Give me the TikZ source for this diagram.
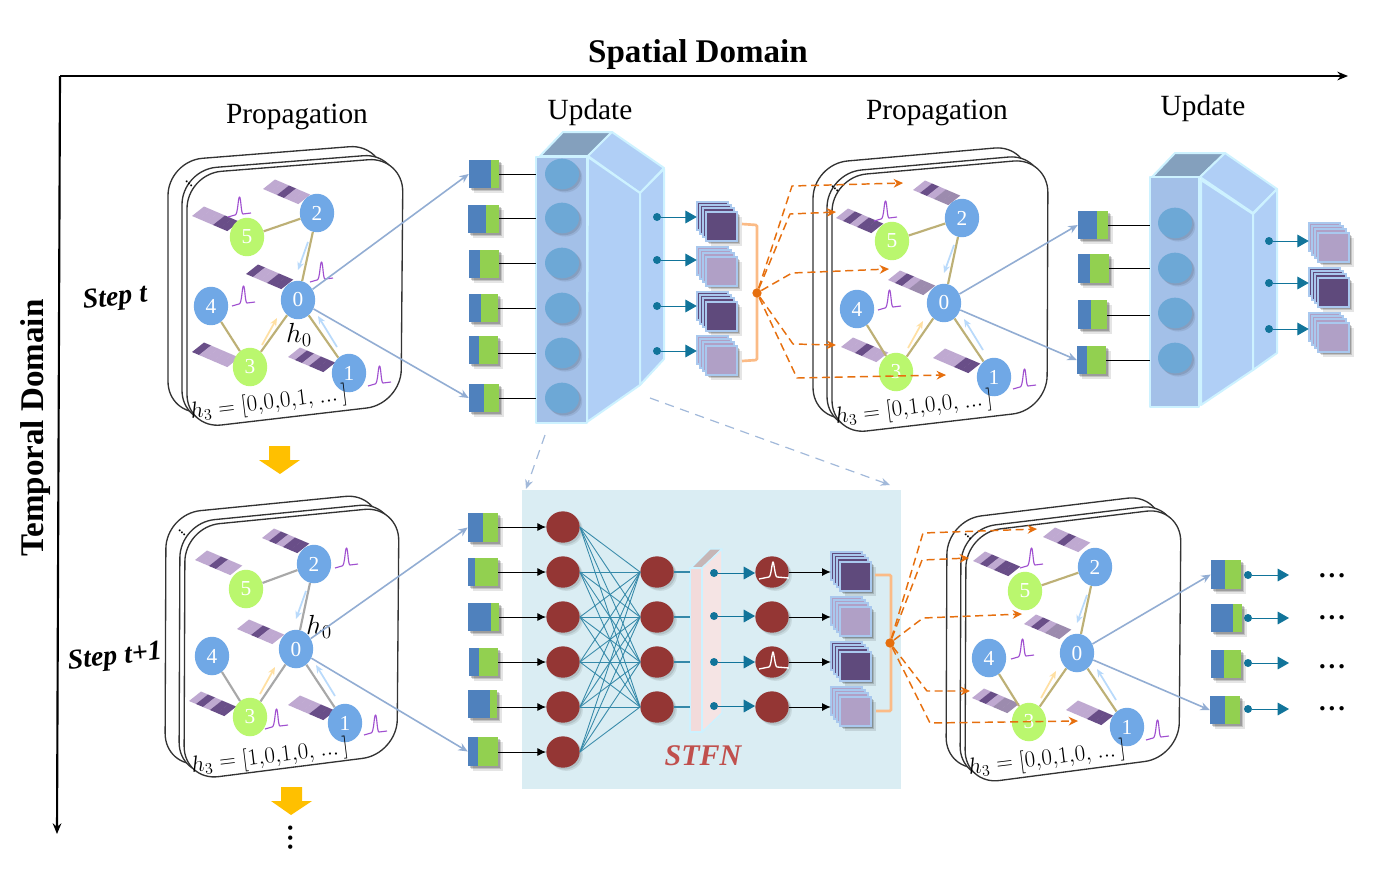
\documentclass[tikz,border=0pt]{standalone}
\usepackage{fontspec}
\setmainfont{Liberation Serif}
\usetikzlibrary{arrows.meta,calc,shadows,shapes.geometric}
\definecolor{cL}{HTML}{BFA9D1}
\definecolor{cD}{HTML}{694E88}
\definecolor{cM}{HTML}{9C8BAE}
\definecolor{nblue}{HTML}{70A8E6}
\definecolor{nlime}{HTML}{BAF76E}
\definecolor{khaki}{HTML}{BDB076}
\definecolor{grayedge}{HTML}{A8A8A8}
\definecolor{linkblue}{HTML}{92ADD3}
\definecolor{fblue}{HTML}{4F81BD}
\definecolor{fgreen}{HTML}{92D050}
\definecolor{teal}{HTML}{11749A}
\definecolor{brick}{HTML}{943634}
\definecolor{prfront}{HTML}{A3C0E8}
\definecolor{prside}{HTML}{B0CFF6}
\definecolor{prtop}{HTML}{84A0BD}
\definecolor{prline}{HTML}{CDF2FF}
\definecolor{prdisc}{HTML}{6DA8D6}
\definecolor{stborder}{HTML}{A9C8EE}
\definecolor{stdark}{HTML}{5F4A7C}
\definecolor{stlight}{HTML}{B0A0C6}
\definecolor{brace}{HTML}{FBBB86}
\definecolor{orangeline}{HTML}{E66F0E}
\definecolor{pulsec}{HTML}{A050D0}
\definecolor{stfnbg}{HTML}{DAEDF3}
\definecolor{stfntxt}{HTML}{C0504D}
\definecolor{yarrow}{HTML}{FFC000}
\definecolor{tinyblue}{HTML}{B9DAFB}
\definecolor{tinyyellow}{HTML}{FFE0A3}
\definecolor{slabtop}{HTML}{C6B6B6}
\definecolor{slabside}{HTML}{F5E4E4}
\definecolor{slabfront}{HTML}{F2DBDB}
\tikzset{
  softsh/.style={drop shadow={shadow xshift=3.6pt,shadow yshift=-3.6pt,opacity=.10,fill=black},
                 drop shadow={shadow xshift=2.6pt,shadow yshift=-2.6pt,opacity=.15,fill=black},
                 drop shadow={shadow xshift=1.4pt,shadow yshift=-1.4pt,opacity=.2,fill=black}},
  softc/.style={drop shadow={shadow xshift=2.4pt,shadow yshift=-2.4pt,opacity=.08,fill=black},
                drop shadow={shadow xshift=1.4pt,shadow yshift=-1.4pt,opacity=.10,fill=black}},
  cardline/.style={draw=black!80,line width=1pt,fill=white,rounded corners=26pt},
  gnode/.style={ellipse,minimum width=33pt*0.78,minimum height=37pt*0.78,inner sep=0pt,text=white,font=\fontsize{16}{16}\selectfont},
  gblue/.style={gnode,fill=nblue},
  glime/.style={gnode,fill=nlime},
  gedge/.style={line width=1.6pt},
  tinyarr/.style={line width=1.3pt,-{Stealth[length=6pt,width=5pt]}},
  link/.style={draw=linkblue,line width=1.2pt,-{Stealth[length=7pt,width=6pt]}},
  featbox/.style={fill=fblue,inner sep=0pt,minimum height=0pt,minimum width=0pt,softsh},
  blackline/.style={draw=black,line width=.7pt},
  blackarr/.style={draw=black,line width=.7pt,-{Latex[length=6.5pt,width=6pt]}},
  tealarr/.style={draw=teal,line width=.75pt,-{Triangle[length=8.5pt,width=9.5pt]}},
  tealdot/.style={circle,fill=teal,inner sep=0pt,minimum size=6pt},
  prismface/.style={draw=prline,line width=1.5pt,line join=round},
  disc/.style={ellipse,fill=prdisc,inner sep=0pt,minimum width=25.5pt,minimum height=23pt,softc},
  redc/.style={ellipse,fill=brick,inner sep=0pt,minimum width=25pt,minimum height=23.5pt,softc},
  stackface/.style={draw=stborder,line width=1.2pt},
  stbound/.style={inner sep=0pt,minimum width=30pt,minimum height=29pt},
  bracel/.style={draw=brace,line width=2pt,rounded corners=1pt},
  hubdot/.style={circle,fill=orangeline,inner sep=0pt,minimum size=7pt},
  orangedash/.style={draw=orangeline,line width=1.1pt,dashed,dash pattern=on 6pt off 3.5pt,line join=round},
  orangearr/.style={orangedash,-{Stealth[length=7pt,width=6.5pt]}},
  pulsestyle/.style={draw=pulsec,line width=.85pt,line join=round},
  whitepulse/.style={draw=white,line width=1pt,line join=round},
  wire/.style={draw=teal!85!white,line width=.65pt},
  axisline/.style={draw=black,line width=1.6pt,-{Stealth[length=8pt,width=6.5pt]}},
  heading/.style={font=\fontsize{22}{22}\selectfont},
  bighead/.style={font=\bfseries\fontsize{24.8}{25}\selectfont},
  steplab/.style={font=\bfseries\itshape\fontsize{21}{21}\selectfont,rotate=6},
  hlabel/.style={font=\fontsize{16.5}{16.5}\selectfont,rotate=7},
  hzero/.style={font=\fontsize{20}{20}\selectfont},
  dotslab/.style={font=\bfseries\fontsize{20}{20}\selectfont,inner sep=0pt},
  yellowfill/.style={fill=yarrow},
  carddots/.style={font=\bfseries\small,rotate=-40},
}
\newcommand\xcard[8]{%
  \foreach \dx/\dy in {-19/-13,-5/-4,0/0}{%
    \path[cardline] ({#1+\dx},{#2+\dy}) -- ({#3+\dx},{#4+\dy}) -- ({#5+\dx},{#6+\dy}) -- ({#7+\dx},{#8+\dy}) -- cycle;
  }%
}
\newcommand\xbar[3]{%
  \foreach \c [count=\i from 0] in {#3}{%
    \fill[\c] ({#1+\i*7},{#2+\i*3}) -- ++(7.3,3.1) -- ++(12,-9.5) -- ++(-7.3,-3.1) -- cycle;
  }%
}
\newcommand\xpulse[2]{\draw[pulsestyle,shift={(#1,#2)}] (0,0) -- (7,-2) .. controls (10,-2) and (10,-20) .. (11.5,-20) .. controls (13,-20) and (13,-3) .. (15,-3) -- (23,-4);}
\newcommand\xedges[2]{%
  \draw[gedge,#2] (#15) -- (#12);
  \draw[gedge,#2] (#12) -- (#10);
  \draw[gedge,#2] (#10) -- (#13);
  \draw[gedge,#2] (#10) -- (#11);
  \draw[gedge,#2] (#14) -- (#13);
  \draw[tinyarr,tinyblue] ($(#10)+(10,-58)$) -- ($(#10)+(0,-30)$);
  \draw[tinyarr,tinyblue] ($(#10)+(39,47)$) -- ($(#10)+(20,16)$);
  \draw[tinyarr,tinyyellow] ($(#10)+(-36,45)$) -- ($(#10)+(-21,18)$);
}
% name, x1, xsplit, x2, y1, y2
\newcommand\xfeat[6]{%
  \node[featbox,minimum width={(#4-#2)*.75pt},minimum height={(#6-#5)*.75pt}] (#1) at ({(#2+#4)/2},{(#5+#6)/2}) {};
  \fill[fgreen] (#3,#5) rectangle (#4,#6);
}
% name, x, y (back top-left), colour
\newcommand\xstack[4]{%
  \node[stbound] (#1) at ({#2+20},{#3+19}) {};
  \draw[stackface,fill=#4] (#2,#3) rectangle ({#2+31},{#3+28});
  \draw[stackface,fill=#4] ({#2+3},{#3+3}) rectangle ({#2+34},{#3+32});
  \draw[stackface,fill=#4] ({#2+6},{#3+6}) rectangle ({#2+37},{#3+35});
  \draw[stackface,fill=#4,softsh] ({#2+9},{#3+10}) rectangle ({#2+40},{#3+39});
}
\begin{document}
\begin{tikzpicture}[x=.75pt,y=-.75pt]
\useasboundingbox (0,0) rectangle (1373,879);
% axes
\coordinate (ax0) at (60,76);
\coordinate (axr) at (1348,76);
\coordinate (axd) at (57,834);
\draw[axisline] (ax0) -- (axr);
\draw[axisline] (ax0) -- (axd);
\node[bighead] (tsd) at (698,55) {Spatial Domain};
\node[bighead,rotate=90] (ttd) at (36,428) {Temporal Domain};
\node[heading] (t1) at (297,116.5) {Propagation};
\node[heading] (t2) at (590,112.5) {Update};
\node[heading] (t3) at (937,112.5) {Propagation};
\node[heading] (t4) at (1203,108) {Update};
\node[steplab] (s1) at (115,299) {Step t};
\node[steplab] (s2) at (115,658) {Step t+1};

% ---------- panel A
\xcard{187}{174}{403}{157}{401}{404}{187}{429}
\node[carddots] (adots) at (189,184) {...};
\xbar{263}{189}{cL,cL,cD,cL,cL}
\xbar{192}{216}{cL,cL,cL,cD,cD}
\xbar{246}{274}{cD,cL,cL,cD,cD}
\xbar{192}{352}{cD,cL,cL,cL,cL}
\xbar{288}{357}{cL,cD,cL,cD,cD}
\xpulse{228}{217}\xpulse{310}{282}\xpulse{232}{306}\xpulse{368}{386}
\node[gblue] (A0) at (298,300) {0};
\node[gblue] (A1) at (349,373) {1};
\node[gblue] (A2) at (317,213) {2};
\node[glime] (A3) at (250,367) {3};
\node[gblue] (A4) at (211,306) {4};
\node[glime] (A5) at (247,237) {5};
\xedges{A}{khaki}
\node[hzero] (Ah) at (299,335) {$h_0$};
\node[hlabel] (Al) at (269,403.5) {$h_3=[0{,}0{,}0{,}1{,}\ ...\,]$};

% ---------- panel B
\xcard{832}{177}{1048}{158}{1047}{410}{832}{435}
\node[carddots] (bdots) at (835,189) {...};
\xbar{913}{190}{cL,cD,cL,cM,cM}
\xbar{836}{218}{cL,cD,cL,cD,cD}
\xbar{888}{280}{cL,cD,cL,cM,cM}
\xbar{841}{347}{cL,cL,cD,cL,cL}
\xbar{933}{358}{cL,cL,cL,cD,cD}
\xpulse{874}{221}\xpulse{878}{310}\xpulse{1013}{389}
\node[gblue] (B0) at (944,303) {0};
\node[gblue] (B1) at (994,377) {1};
\node[gblue] (B2) at (962,218) {2};
\node[glime] (B3) at (896,372) {3};
\node[gblue] (B4) at (857,309) {4};
\node[glime] (B5) at (892,241) {5};
\xedges{B}{khaki}
\node[hlabel] (Bl) at (914,408.5) {$h_3=[0{,}1{,}0{,}0{,}\ ...\,]$};

% ---------- panel C
\xcard{185}{527}{399}{506}{397}{754}{184}{781}
\node[carddots] (cdots) at (182,533) {...};
\xbar{262}{538}{cL,cD,cL,cD,cD}
\xbar{195}{560}{cL,cL,cD,cL,cL}
\xbar{237}{629}{cL,cL,cD,cL,cL}
\xbar{189}{701}{cL,cD,cL,cD,cD}
\xbar{288}{705}{cL,cL,cL,cD,cD}
\xpulse{335}{568}\xpulse{265}{729}\xpulse{364}{735}
\node[gblue] (C0) at (296,649) {0};
\node[gblue] (C1) at (345,723) {1};
\node[gblue] (C2) at (314,564) {2};
\node[glime] (C3) at (250,717) {3};
\node[gblue] (C4) at (212,656) {4};
\node[glime] (C5) at (246,589) {5};
\xedges{C}{grayedge}
\node[hzero] (Ch) at (319,627) {$h_0$};
\node[hlabel] (Cl) at (270,757) {$h_3=[1{,}0{,}1{,}0{,}\ ...\,]$};

% ---------- first prism
\xfeat{Pa1}{469}{491}{499}{160}{188}
\xfeat{Pa2}{468}{486}{499}{205}{233}
\xfeat{Pa3}{469}{480}{499}{250}{278}
\xfeat{Pa4}{469}{481}{498}{294}{322}
\xfeat{Pa5}{469}{479}{498}{336}{364}
\xfeat{Pa6}{469}{484}{499}{384}{412}
\draw[prismface,fill=prtop] (540,156) -- (563,132) -- (612,132) -- (588,156) -- cycle;
\draw[prismface,fill=prside] (588,156) -- (612,132) -- (664,168) -- (640,193) -- cycle;
\draw[prismface,fill=prside] (588,157) -- (640,193) -- (640,385) -- (587,422) -- cycle;
\draw[prismface,fill=prside] (640,193) -- (664,169) -- (664,359) -- (640,385) -- cycle;
\draw[prismface,fill=prfront] (536,157) rectangle (587,423);
\foreach \i/\y in {1/174,2/218,3/263,4/308,5/353,6/398}{
  \node[disc] (Pd\i) at (562,\y) {};
  \coordinate (Pe\i) at (536,\y);
  \draw[blackline] (Pa\i.east |- Pe\i) -- (Pe\i);
}
\xstack{Qa1}{697}{202}{stdark}
\xstack{Qa2}{697}{247}{stlight}
\xstack{Qa3}{697}{292}{stdark}
\xstack{Qa4}{697}{336}{stlight}
\foreach \i/\y in {1/217,2/260,3/306,4/351}{
  \node[tealdot] (Pt\i) at (657,\y) {};
  \draw[tealarr] (Pt\i) -- (Pt\i -| Qa\i.west);
}
\draw[bracel] (742,224) -- (757,225) -- (757,360) -- (742,361);
\node[hubdot] (hub1) at (757,293) {};

% links from panel A
\draw[link] (A0) -- (Pa1.west);
\draw[link] (A0) -- (Pa6.west);

% ---------- second prism
\xfeat{Pb1}{1078}{1097}{1108}{211}{239}
\xfeat{Pb2}{1078}{1090}{1109}{254}{283}
\xfeat{Pb3}{1078}{1091}{1107}{300}{329}
\xfeat{Pb4}{1077}{1087}{1106}{346}{374}
\draw[prismface,fill=prtop] (1152,177) -- (1175,153) -- (1225,153) -- (1200,177) -- cycle;
\draw[prismface,fill=prside] (1200,177) -- (1225,153) -- (1277,189) -- (1253,213) -- cycle;
\draw[prismface,fill=prside] (1201,180) -- (1253,214) -- (1253,370) -- (1201,405) -- cycle;
\draw[prismface,fill=prside] (1253,214) -- (1277,189) -- (1277,353) -- (1253,370) -- cycle;
\draw[prismface,fill=prfront] (1150,177) rectangle (1199,407);
\foreach \i/\y/\l in {1/223/225,2/268/268,3/313/315,4/358/360}{
  \node[disc] (Rd\i) at (1175,\y) {};
  \coordinate (Re\i) at (1150,\l);
  \draw[blackline] (Pb\i.east |- Re\i) -- (Re\i);
}
\xstack{Qb1}{1309}{223}{stlight}
\xstack{Qb2}{1309}{268}{stdark}
\xstack{Qb3}{1309}{313}{stlight}
\foreach \i/\y in {1/241,2/283,3/329}{
  \node[tealdot] (Rt\i) at (1269,\y) {};
  \draw[tealarr] (Rt\i) -- (Rt\i -| Qb\i.west);
}
\draw[link] (B0) -- (Pb1.west);
\draw[link] (B0) -- (Pb4.west);

% dashed from hub 1 to panel B
\coordinate (ob1) at (903,183);
\coordinate (ob2) at (836,212);
\coordinate (ob3) at (889,269);
\coordinate (ob4) at (836,345);
\coordinate (ob5) at (946,375);
\draw[orangearr] (hub1) -- (792,186) -- (ob1);
\draw[orangearr] (hub1) -- (790,214) -- (ob2);
\draw[orangearr] (hub1) -- (792,273) -- (ob3);
\draw[orangearr] (hub1) -- (793,344) -- (ob4);
\draw[orangearr] (hub1) -- (797,378) -- (ob5);

% ---------- STFN
\node[fill=stfnbg,draw=none,inner sep=0pt,minimum width={379*.75pt},minimum height={299*.75pt}] (stfn) at (711.5,639.5) {};
\coordinate (dd1) at (545,435);
\coordinate (dd2) at (650,398);
\coordinate (dd1e) at (526,489);
\coordinate (dd2e) at (890,485);
\draw[draw=linkblue!85!white,line width=.9pt,dashed,dash pattern=on 7pt off 5pt,-{Stealth[length=7pt,width=6pt]}] (dd1) -- (dd1e);
\draw[draw=linkblue!85!white,line width=.9pt,dashed,dash pattern=on 7pt off 5pt,-{Stealth[length=7pt,width=6pt]}] (dd2) -- (dd2e);

\xfeat{Sa1}{468}{483}{498}{513}{542}
\xfeat{Sa2}{468}{475}{498}{558}{586}
\xfeat{Sa3}{468}{491}{499}{603}{631}
\xfeat{Sa4}{469}{479}{498}{648}{676}
\xfeat{Sa5}{468}{490}{497}{690}{718}
\xfeat{Sa6}{468}{478}{498}{737}{766}
\foreach \i/\y in {1/527,2/572,3/617,4/662,5/707,6/752}{\node[redc] (Sb\i) at (563,\y) {};}
\foreach \i/\y in {1/572,2/617,3/662,4/707}{\node[redc] (Sc\i) at (657,\y) {};}
\foreach \i in {1,...,6}{\foreach \j in {1,...,4}{\draw[wire] (Sb\i.east) -- (Sc\j.west);}}
\foreach \i in {1,...,6}{\draw[blackarr] (Sa\i.east |- Sb\i) -- (Sb\i.west);}
% slab
\draw[prismface,line width=1pt,fill=slabtop] (691,568) -- (710,549) -- (722,549) -- (702,568) -- cycle;
\draw[prismface,line width=1pt,fill=slabside] (702,568) -- (722,549) -- (722,713) -- (702,732) -- cycle;
\draw[prismface,line width=1pt,fill=slabfront] (690,568) rectangle (702,732);
\foreach \i/\y in {1/572,2/617,3/662,4/707}{
  \coordinate (Ss\i) at (690,\y);
  \draw[wire,line width=.9pt] (Sc\i.east) -- (Ss\i);
}
\foreach \i/\d/\y in {1/573/572,2/616/617,3/662/662,4/706/707}{
  \node[tealdot] (St\i) at (714,\d) {};
  \node[redc] (Sr\i) at (772,\y) {};
  \draw[tealarr] (St\i) -- (St\i -| Sr\i.west);
}
\draw[whitepulse,shift={(772,572)}] (-13,7) -- (-3,5) .. controls (-1,5) and (0,-10) .. (1,-10) .. controls (2,-10) and (3,5) .. (5,5) -- (17,6);
\draw[whitepulse,shift={(772,662)}] (-13,7) -- (-3,5) .. controls (-1,5) and (0,-10) .. (1,-10) .. controls (2,-10) and (3,5) .. (5,5) -- (17,6);
\xstack{Qc1}{831}{552}{stdark}
\xstack{Qc2}{831}{597}{stlight}
\xstack{Qc3}{831}{642}{stdark}
\xstack{Qc4}{831}{687}{stlight}
\foreach \i in {1,...,4}{\draw[blackarr] (Sr\i.east) -- (Sr\i.east -| Qc\i.west);}
\draw[bracel] (875,575) -- (891,575) -- (891,711) -- (876,711);
\node[hubdot] (hub2) at (890,643) {};
\node[font=\bfseries\itshape\fontsize{22.5}{22.5}\selectfont,text=stfntxt] (stfnl) at (703,756) {STFN};

% links from panel C
\draw[link] (C0) -- (Sa1.west);
\draw[link] (C0) -- (Sa6.west);

% ---------- panel D
\xcard{966}{533}{1181}{507}{1179}{757}{965}{785}
\node[carddots] (ddots) at (968,537) {...};
\xbar{1043}{537}{cL,cL,cD,cL,cL}
\xbar{973}{561}{cL,cD,cL,cD,cD}
\xbar{1024}{624}{cL,cD,cL,cM,cM}
\xbar{972}{698}{cL,cD,cL,cM,cM}
\xbar{1066}{710}{cL,cL,cL,cD,cD}
\xpulse{1020}{568}\xpulse{1011}{659}\xpulse{1146}{740}
\node[gblue] (D0) at (1077,653) {0};
\node[gblue] (D1) at (1127,727) {1};
\node[gblue] (D2) at (1095,567) {2};
\node[glime] (D3) at (1029,722) {3};
\node[gblue] (D4) at (989,658) {4};
\node[glime] (D5) at (1025,591) {5};
\xedges{D}{khaki}
\node[hlabel] (Dl) at (1047,759) {$h_3=[0{,}0{,}1{,}0{,}\ ...\,]$};
\coordinate (od1) at (1037,529);
\coordinate (od2) at (969,558);
\coordinate (od3) at (1022,614);
\coordinate (od4) at (970,691);
\coordinate (od5) at (1078,721);
\draw[orangearr] (hub2) -- (923,533) -- (od1);
\draw[orangearr] (hub2) -- (922,560) -- (od2);
\draw[orangearr] (hub2) -- (923,618) -- (od3);
\draw[orangearr] (hub2) -- (927,691) -- (od4);
\draw[orangearr] (hub2) -- (930,723) -- (od5);

\xfeat{Ta1}{1211}{1225}{1241}{560}{589}
\xfeat{Ta2}{1211}{1233}{1242}{604}{632}
\xfeat{Ta3}{1211}{1224}{1241}{650}{678}
\xfeat{Ta4}{1210}{1225}{1240}{696}{724}
\draw[link] (D0) -- (Ta1.west);
\draw[link] (D0) -- (Ta4.west);
\foreach \i/\y/\q in {1/575/577,2/618/619,3/663/668,4/709/710}{
  \node[tealdot] (Tt\i) at (1248,\y) {};
  \coordinate (Te\i) at (1289,\y);
  \draw[tealarr] (Tt\i) -- (Te\i);
  \node[dotslab,anchor=center] (Tm\i) at (1332,\q-1) {.\hspace{2.2pt}.\hspace{2.2pt}.};
}

% yellow arrows
\fill[yellowfill] (269,446) -- (290,446) -- (290,460) -- (300,460) -- (280,474) -- (259,460) -- (269,460) -- cycle;
\fill[yellowfill] (281,787) -- (302,787) -- (302,801) -- (312,801) -- (291,815) -- (271,801) -- (281,801) -- cycle;
\node[dotslab,rotate=90] (vdots) at (291,838) {.\hspace{2.2pt}.\hspace{2.2pt}.};
\end{tikzpicture}
\end{document}
